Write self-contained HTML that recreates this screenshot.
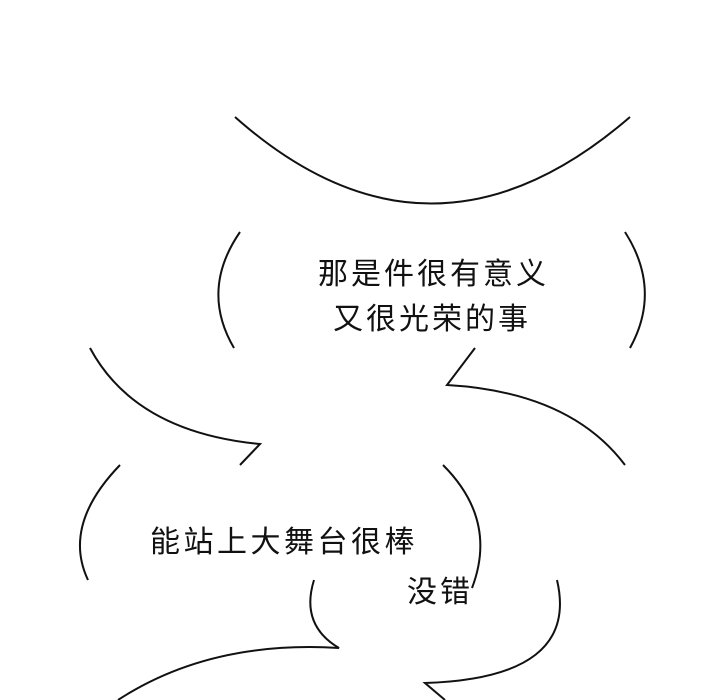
<!DOCTYPE html>
<html><head><meta charset="utf-8"><style>
html,body{margin:0;padding:0;background:#fff;}
svg{display:block}
text{font-family:"Liberation Sans","Noto Sans CJK SC",sans-serif;font-size:30px;fill:#111;}
</style></head><body>
<svg width="720" height="700" viewBox="0 0 720 700" xmlns="http://www.w3.org/2000/svg">
<g fill="none" stroke="#111" stroke-width="2">
<path d="M235,117 Q430,290 630,117"/>
<path d="M240,232 Q200,290 234,348"/>
<path d="M625,232 Q662,290 630,348"/>
<path d="M90,348 Q135,432 260,444 L240,465"/>
<path d="M475,348 L447,385 Q570,392 625,465"/>
<path d="M120,465 Q62,525 88,580"/>
<path d="M443,465 Q498,520 472,588"/>
<path d="M314,580 Q300,625 339,648 Q210,640 118,700"/>
<path d="M557,580 Q580,678 425,683 L445,700"/>
</g>
<text x="318" y="284" letter-spacing="3">那是件很有意义</text>
<text x="333" y="329" letter-spacing="3">又很光荣的事</text>
<text x="150" y="552" letter-spacing="3.5">能站上大舞台很棒</text>
<text x="407" y="602" letter-spacing="3">没错</text>
</svg>
</body></html>
